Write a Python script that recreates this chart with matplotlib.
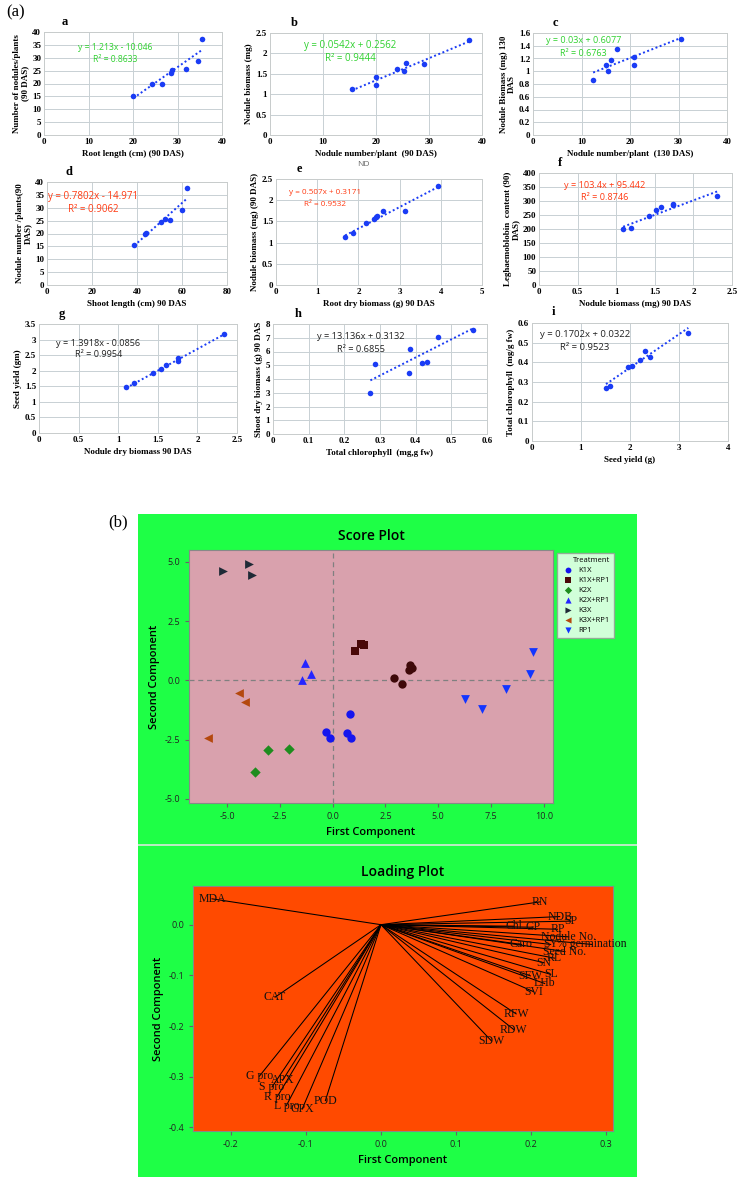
import matplotlib
matplotlib.use("Agg")
import matplotlib.pyplot as plt
import numpy as np

W, H = 738, 1180

# ---------------- panel (a) data ----------------
a_x = [20.1, 24.2, 26.6, 28.5, 28.8, 31.8, 34.7, 35.5]
a_y = [15.2, 19.9, 19.9, 23.9, 25.1, 25.5, 28.7, 37.3]
b_x = [15.4, 20.0, 20.0, 24.0, 25.3, 25.6, 29.0, 37.6]
b_y = [1.12, 1.43, 1.22, 1.61, 1.56, 1.76, 1.75, 2.33]
c_x = [12.4, 15.0, 15.4, 16.1, 17.3, 20.8, 20.8, 30.5]
c_y = [0.86, 1.10, 1.00, 1.175, 1.35, 1.23, 1.10, 1.506]
d_x = [38.8, 43.4, 44.0, 50.8, 52.3, 54.5, 60.0, 62.4]
d_y = [15.5, 20.0, 20.3, 24.3, 25.7, 25.4, 29.0, 37.7]
e_x = [1.68, 1.86, 2.18, 2.37, 2.42, 2.45, 2.60, 3.14, 3.93]
e_y = [1.13, 1.22, 1.46, 1.55, 1.60, 1.63, 1.74, 1.75, 2.33]
f_x = [1.09, 1.19, 1.42, 1.52, 1.58, 1.73, 1.74, 2.31]
f_y = [199, 205, 248, 267, 279, 287, 291, 318]
g_x = [1.10, 1.20, 1.44, 1.54, 1.60, 1.75, 1.75, 2.34]
g_y = [1.49, 1.60, 1.94, 2.06, 2.19, 2.32, 2.40, 3.18]
h_x = [0.273, 0.286, 0.381, 0.385, 0.419, 0.432, 0.464, 0.561]
h_y = [3.0, 5.07, 4.44, 6.16, 5.14, 5.21, 7.03, 7.56]
i_x = [1.51, 1.59, 1.95, 2.05, 2.20, 2.30, 2.41, 3.19]
i_y = [0.27, 0.278, 0.376, 0.38, 0.414, 0.458, 0.427, 0.551]

slopes = [1.213, 0.0542, 0.03, 0.7802, 0.507, 103.4, 1.3918, 13.136, 0.1702]
intercepts = [-10.046, 0.2562, 0.6077, -14.971, 0.3171, 95.442, -0.0856, 0.3132, 0.0322]
equations = ["y = 1.213x - 10.046", "y = 0.0542x + 0.2562", "y = 0.03x + 0.6077",
             "y = 0.7802x - 14.971", "y = 0.507x + 0.3171", "y = 103.4x + 95.442",
             "y = 1.3918x - 0.0856", "y = 13.136x + 0.3132", "y = 0.1702x + 0.0322"]
r2_labels = ["R² = 0.8633", "R² = 0.9444", "R² = 0.6763", "R² = 0.9062", "R² = 0.9532",
             "R² = 0.8746", "R² = 0.9954", "R² = 0.6855", "R² = 0.9523"]
x_labels = ["Root length (cm) (90 DAS)", "Nodule number/plant  (90 DAS)",
            "Nodule number/plant  (130 DAS)", "Shoot length (cm) 90 DAS",
            "Root dry biomass (g) 90 DAS", "Nodule biomass (mg) 90 DAS",
            "Nodule dry biomass 90 DAS", "Total chlorophyll  (mg,g fw)", "Seed yield (g)"]
y_labels = ["Number of nodules/plants\n(90 DAS)", "Nodule biomass (mg)",
            "Nodule Biomass (mg) 130\nDAS", "Nodule number /plants(90\nDAS)",
            "Nodule biomass (mg) (90 DAS)", "Leghaemoblobin  content (90)\nDAS)",
            "Seed yield (gm)", "Shoot dry biomass (g) 90 DAS", "Total chlorophyll  (mg/g fw)"]
letters = ["a", "b", "c", "d", "e", "f", "g", "h", "i"]
x_lims = [(0, 40), (0, 40), (0, 40), (0, 80), (0, 5), (0, 2.5), (0, 2.5), (0, 0.6), (0, 4)]
x_steps = [10, 10, 10, 20, 1, 0.5, 0.5, 0.1, 1]
y_lims = [(0, 40), (0, 2.5), (0, 1.6), (0, 40), (0, 2.5), (0, 400), (0, 3.5), (0, 8), (0, 0.6)]
y_steps = [5, 0.5, 0.2, 5, 0.5, 50, 0.5, 1, 0.1]
eq_colors = ["#2fd12f"] * 3 + ["#ff3a12"] * 3 + ["#222222"] * 3

# ---------------- panel (b) data ----------------
treatments = ["K1X", "K1X+RP1", "K2X", "K2X+RP1", "K3X", "K3X+RP1", "RP1"]
score_x = [[-0.30, -0.14, 0.83, 0.68, 0.85],
           [1.08, 1.34, 1.46],
           [-3.08, -2.06, -3.68],
           [-1.29, -1.01, -1.46],
           [-5.20, -3.95, -3.82],
           [-4.45, -4.15, -5.88],
           [9.50, 9.34, 8.22, 7.08, 6.26]]
score_y = [[-2.18, -2.41, -1.42, -2.22, -2.44],
           [1.25, 1.53, 1.50],
           [-2.93, -2.89, -3.85],
           [0.72, 0.28, 0.01],
           [4.62, 4.93, 4.43],
           [-0.55, -0.89, -2.41],
           [1.20, 0.28, -0.38, -1.19, -0.78]]
extra_x = [2.92, 3.27, 3.66, 3.77, 3.63]
extra_y = [0.10, -0.16, 0.65, 0.54, 0.42]

load_names = ["MDA", "RN", "NDB", "SP", "Chl", "GP", "RP", "Nodule No.", "Caro", "SY",
              "% germination", "Seed No.", "RL", "SN", "SL", "SFW", "LHb", "SVI", "RFW",
              "RDW", "SDW", "CAT", "G pro", "APX", "S pro", "R pro", "L pro", "GPX", "POD"]
load_x = [-0.225, 0.212, 0.238, 0.253, 0.177, 0.202, 0.235, 0.250, 0.187, 0.226,
          0.281, 0.245, 0.231, 0.217, 0.226, 0.199, 0.218, 0.203, 0.180,
          0.177, 0.147, -0.141, -0.162, -0.131, -0.145, -0.138, -0.126, -0.105, -0.074]
load_y = [0.051, 0.045, 0.016, 0.007, -0.003, -0.005, -0.009, -0.024, -0.039, -0.039,
          -0.039, -0.053, -0.066, -0.075, -0.098, -0.101, -0.116, -0.132, -0.176,
          -0.207, -0.229, -0.143, -0.299, -0.307, -0.320, -0.339, -0.357, -0.364, -0.347]

SERIF = ["Liberation Serif", "DejaVu Serif"]
SANS = ["Open Sans", "DejaVu Sans"]
BLUE = "#1a3cf5"


def rect(x0, y0, x1, y1):
    return [x0 / W, 1 - y1 / H, (x1 - x0) / W, (y1 - y0) / H]


fig = plt.figure(figsize=(W / 100, H / 100), dpi=100)
fig.patch.set_facecolor("white")

# pixel boxes of the nine small panels
boxes = [(44, 32, 222, 135), (270, 33, 482, 135), (533, 33, 727, 135),
         (47, 182, 227, 285), (276, 179, 482, 285), (539, 173, 732, 285),
         (39, 324, 237, 433), (273, 324, 487, 434), (532, 323, 728, 441)]
# equation anchor (axes fraction): x centre, y of equation, y of R2
eq_pos = [(0.40, 0.845, 0.73), (0.38, 0.88, 0.75), (0.26, 0.93, 0.80),
          (0.255, 0.86, 0.73), (0.24, 0.87, 0.76), (0.34, 0.89, 0.78),
          (0.30, 0.82, 0.72), (0.41, 0.885, 0.77), (0.27, 0.90, 0.79)]
eq_sizes = [6.2, 7.0, 6.5, 7.0, 5.9, 6.6, 6.6, 6.7, 6.8]

for k in range(9):
    xs = globals()[letters[k] + "_x"]
    ys = globals()[letters[k] + "_y"]
    ax = fig.add_axes(rect(*boxes[k]))
    ax.scatter(xs, ys, s=16, color=BLUE, zorder=3, linewidths=0)
    xx = np.array([min(xs), max(xs)])
    ax.plot(xx, slopes[k] * xx + intercepts[k], color=BLUE, lw=1.4,
            linestyle=(0, (1, 1.3)), zorder=2)
    ax.set_xlim(*x_lims[k])
    ax.set_ylim(*y_lims[k])
    ax.set_xticks(np.arange(x_lims[k][0], x_lims[k][1] + x_steps[k] / 2, x_steps[k]))
    ax.set_yticks(np.arange(y_lims[k][0], y_lims[k][1] + y_steps[k] / 2, y_steps[k]))
    ax.xaxis.set_major_formatter(plt.FuncFormatter(lambda v, p: f"{v:g}"))
    ax.yaxis.set_major_formatter(plt.FuncFormatter(lambda v, p: f"{v:g}"))
    ax.grid(True, color="#c8d0d4", lw=0.7)
    ax.set_axisbelow(True)
    for s in ax.spines.values():
        s.set_color("#c8cccc")
        s.set_linewidth(0.7)
    ax.tick_params(length=0, pad=2)
    for lab in ax.get_xticklabels() + ax.get_yticklabels():
        lab.set_fontfamily(SERIF)
        lab.set_fontweight("bold")
        lab.set_fontsize(6.5)
    ax.set_xlabel(x_labels[k], family=SERIF, weight="bold", fontsize=6.5, labelpad=3)
    ax.set_ylabel(y_labels[k], family=SERIF, weight="bold", fontsize=6.5, labelpad=2,
                  linespacing=1.0)
    ex, ey, ry = eq_pos[k]
    ax.text(ex, ey, equations[k], transform=ax.transAxes, ha="center",
            va="center", color=eq_colors[k], family=SANS, fontsize=eq_sizes[k])
    ax.text(ex, ry, r2_labels[k], transform=ax.transAxes, ha="center",
            va="center", color=eq_colors[k], family=SANS, fontsize=eq_sizes[k])
    ax.text(0.1, 1.04, letters[k], transform=ax.transAxes, ha="left", va="bottom",
            family=SERIF, weight="bold", fontsize=9)

fig.text(6 / W, 1 - 12 / H, "(a)", family=SERIF, fontsize=12, va="center")
fig.text(363 / W, 1 - 164 / H, "ND", family=SANS, fontsize=6, color="#666666",
         ha="center", va="center")

# ---------------- panel (b) ----------------
GREEN = "#1eff46"
bg = fig.add_axes(rect(138, 514, 637, 1177))
bg.set_facecolor(GREEN)
bg.set_xticks([])
bg.set_yticks([])
for s in bg.spines.values():
    s.set_visible(False)
bg.axhline(1 - (845 - 514) / (1177 - 514), color="#d8e8dc", lw=1.2)
fig.text(108 / W, 1 - 522 / H, "(b)", family=SERIF, fontsize=12, va="center")

# score plot
sc = fig.add_axes(rect(189, 550, 553, 803))
sc.set_facecolor("#d9a1ad")
markers = ["o", "s", "D", "^", ">", "<", "v"]
colors = ["#1515ee", "#4a0808", "#1e8c1e", "#2525ff", "#1f2a36", "#b4480e", "#1235ff"]
sizes = [36, 36, 28, 40, 40, 40, 40]
for t in range(len(treatments)):
    sc.scatter(score_x[t], score_y[t], marker=markers[t], s=sizes[t], color=colors[t],
               label=treatments[t], linewidths=0, zorder=3)
sc.scatter(extra_x, extra_y, marker="o", s=36, color="#3e0909", linewidths=0, zorder=3)
sc.axhline(0, color="#808080", lw=0.9, ls=(0, (4, 3)), zorder=1)
sc.axvline(0, color="#808080", lw=0.9, ls=(0, (4, 3)), zorder=1)
sc.set_xlim(-6.8, 10.43)
sc.set_ylim(-5.17, 5.5)
sc.set_xticks([-5, -2.5, 0, 2.5, 5, 7.5, 10])
sc.set_yticks([-5, -2.5, 0, 2.5, 5])
sc.xaxis.set_major_formatter(plt.FuncFormatter(lambda v, p: f"{v:.1f}"))
sc.yaxis.set_major_formatter(plt.FuncFormatter(lambda v, p: f"{v:.1f}"))
sc.tick_params(labelsize=6.5, length=3, color="#666666", labelcolor="#222222")
for lab in sc.get_xticklabels() + sc.get_yticklabels():
    lab.set_fontfamily(SANS)
for s in sc.spines.values():
    s.set_color("#888888")
sc.set_title("Score Plot", family=SANS, fontsize=10, weight="semibold", pad=7)
sc.set_xlabel("First Component", family=SANS, fontsize=8, weight="semibold", labelpad=4)
sc.set_ylabel("Second Component", family=SANS, fontsize=8, weight="semibold", labelpad=3)
leg = sc.legend(title="Treatment", loc="upper left",
                bbox_to_anchor=(557 / W, 1 - 553 / H), bbox_transform=fig.transFigure,
                prop={"family": SANS, "size": 5.5}, title_fontproperties={"family": SANS, "size": 5.5},
                frameon=True, fancybox=False, edgecolor="#999999", borderpad=0.5,
                handletextpad=0.3, labelspacing=0.35, markerscale=0.7, borderaxespad=0)
leg._legend_box.align = "right"

# loading plot
ld = fig.add_axes(rect(193, 886, 613, 1131))
ld.set_facecolor("#ff4a00")
for nm, lx, ly in zip(load_names, load_x, load_y):
    ld.plot([0, lx], [0, ly], color="black", lw=0.75, zorder=2)
    ld.text(lx, ly, nm, family=SERIF, fontsize=8.5, ha="center", va="center",
            color="#111111", zorder=3)
ld.set_xlim(-0.2503, 0.309)
ld.set_ylim(-0.407, 0.0763)
ld.set_xticks([-0.2, -0.1, 0.0, 0.1, 0.2, 0.3])
ld.set_yticks([0.0, -0.1, -0.2, -0.3, -0.4])
ld.xaxis.set_major_formatter(plt.FuncFormatter(lambda v, p: f"{v:.1f}"))
ld.yaxis.set_major_formatter(plt.FuncFormatter(lambda v, p: f"{v:.1f}"))
ld.tick_params(labelsize=6.5, length=3, color="#666666", labelcolor="#222222")
for lab in ld.get_xticklabels() + ld.get_yticklabels():
    lab.set_fontfamily(SANS)
for s in ld.spines.values():
    s.set_color("#888888")
ld.set_title("Loading Plot", family=SANS, fontsize=10, weight="semibold", pad=7)
ld.set_xlabel("First Component", family=SANS, fontsize=8, weight="semibold", labelpad=4)
ld.set_ylabel("Second Component", family=SANS, fontsize=8, weight="semibold", labelpad=3)

fig.savefig("out.png", dpi=100)
